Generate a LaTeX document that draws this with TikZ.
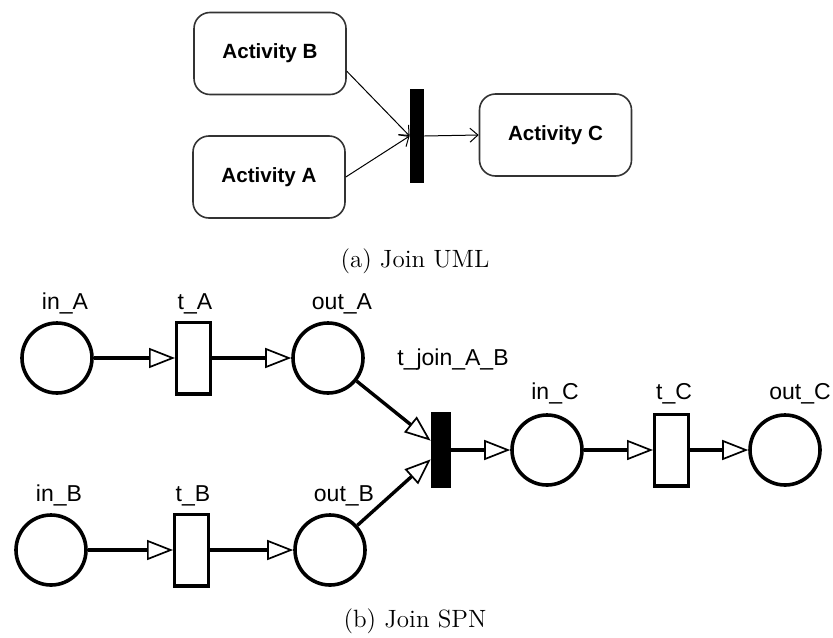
\documentclass[tikz,border=0pt]{standalone}
\usepackage{fontspec}
\newfontfamily\arial{Liberation Sans}
\usetikzlibrary{arrows.meta}

\begin{document}
\begin{tikzpicture}[x=0.5pt, y=-0.5pt,
    activity/.style={rectangle, rounded corners=8pt, draw=black!80, line width=0.8pt, minimum width=76pt, minimum height=41pt, inner sep=0pt, font=\arial\bfseries\fontsize{10.3}{12}\selectfont},
    umlbar/.style={rectangle, fill=black, minimum width=7pt, minimum height=47pt, inner sep=0pt},
    umlarc/.style={line width=0.5pt, -{Straight Barb[length=4pt, width=7pt, line width=0.5pt]}},
    place/.style={circle, draw, line width=1.8pt, minimum size=35pt, inner sep=0pt},
    trans/.style={rectangle, draw, line width=1.7pt, minimum width=16.8pt, minimum height=35.8pt, inner sep=0pt},
    joinbar/.style={rectangle, fill=black, minimum width=10pt, minimum height=38pt, inner sep=0pt},
    lbl/.style={anchor=base, inner sep=0pt, font=\arial\fontsize{11.5}{13}\selectfont},
    arc/.style={line width=1.7pt, -{Triangle[open, length=13pt, width=10pt, line width=0.85pt]}},
    subcap/.style={anchor=base, inner sep=0pt, font=\fontsize{12.5}{15}\selectfont}]
    \useasboundingbox (0,0) rectangle (833,637);

    \node[activity] (actB) at (270,53.5) {Activity B};
    \node[activity] (actA) at (269,177) {Activity A};
    \node[activity] (actC) at (555.5,135) {Activity C};
    \node[umlbar] (ubar) at (417,136) {};
    \draw[umlarc] (actB.-13) -- (ubar.west);
    \draw[umlarc] (actA.east) -- (ubar.west);
    \draw[umlarc] (ubar.east) -- (actC.west);
    \node[subcap] (capA) at (415,267) {(a) Join UML};

    \node[place] (inA) at (57,358) {};
    \node[trans] (tA) at (193.5,358) {};
    \node[place] (outA) at (328,358) {};
    \node[place] (inB) at (51,550) {};
    \node[trans] (tB) at (191.5,550) {};
    \node[place] (outB) at (330,550) {};
    \node[joinbar] (tj) at (441,450) {};
    \node[place] (inC) at (547,450) {};
    \node[trans] (tC) at (671.5,450) {};
    \node[place] (outC) at (785,450) {};

    \node[lbl] (lInA) at (65,309) {in\_A};
    \node[lbl] (lTA) at (195,309) {t\_A};
    \node[lbl] (lOutA) at (342,309) {out\_A};
    \node[lbl] (lInB) at (59,501) {in\_B};
    \node[lbl] (lTB) at (193,501) {t\_B};
    \node[lbl] (lOutB) at (344,501) {out\_B};
    \node[lbl] (lTj) at (453,365) {t\_join\_A\_B};
    \node[lbl] (lInC) at (555,399) {in\_C};
    \node[lbl] (lTC) at (674,399) {t\_C};
    \node[lbl] (lOutC) at (800,399) {out\_C};

    \draw[arc] (inA) -- (tA);
    \draw[arc] (tA) -- (outA);
    \draw[arc] (inB) -- (tB);
    \draw[arc] (tB) -- (outB);
    \draw[arc] (outA) -- (tj.138);
    \draw[arc] (outB) -- (tj.222);
    \draw[arc] (tj) -- (inC);
    \draw[arc] (inC) -- (tC);
    \draw[arc] (tC) -- (outC);
    \node[subcap] (capB) at (415,627) {(b) Join SPN};
\end{tikzpicture}
\end{document}
